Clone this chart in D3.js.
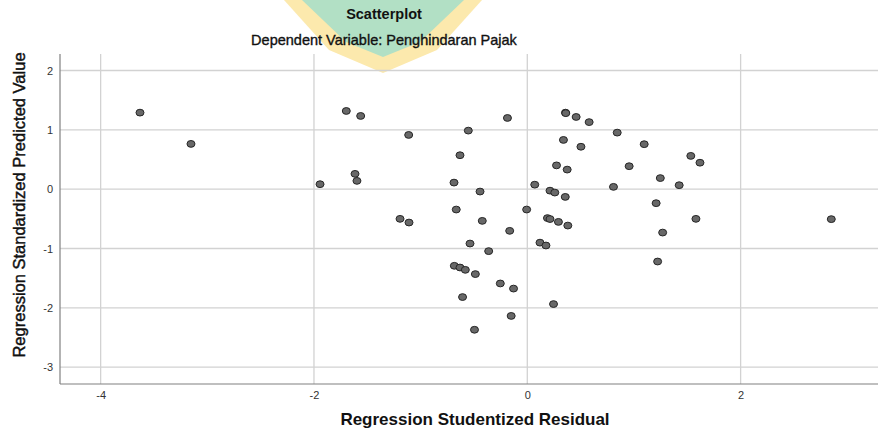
<!DOCTYPE html>
<html>
<head>
<meta charset="utf-8">
<script src="https://cdn.jsdelivr.net/npm/d3@7"></script>
<style>
  html, body { margin: 0; padding: 0; background: #fff; }
  svg { display: block; }
</style>
</head>
<body>
<svg id="chart" width="878" height="430"></svg>
<script>
// ---- data ----
const residual = [
  -3.631, -3.153, -1.697, -1.562, -1.112, -0.553, -0.631, -1.615, -1.597, -1.943,
  -0.687, -0.443, -0.666, -1.193, -1.109, -0.422, -0.165, -0.537, -0.362, -0.684,
  -0.631, -0.581, -0.487, -0.253, -0.129, -0.607, 0.246, -0.151, -0.495, -0.186,
  0.358, 0.361, 0.458, 0.580, 0.843, 0.339, 0.503, 1.096, 1.533, 1.619,
  0.274, 0.374, 0.955, 1.247, 0.070, 0.808, 1.424, 0.213, 0.258, 0.356,
  1.208, -0.006, 0.189, 0.213, 0.292, 0.380, 0.119, 0.175, 1.581, 1.269,
  1.222, 2.850
];
const predicted = [
  1.290, 0.763, 1.318, 1.234, 0.914, 0.987, 0.572, 0.258, 0.140, 0.084,
  0.111, -0.040, -0.343, -0.500, -0.562, -0.534, -0.702, -0.916, -1.044, -1.291,
  -1.320, -1.359, -1.431, -1.589, -1.675, -1.818, -1.936, -2.136, -2.369, 1.200,
  1.290, 1.281, 1.217, 1.130, 0.953, 0.830, 0.715, 0.758, 0.561, 0.446,
  0.401, 0.330, 0.387, 0.187, 0.076, 0.039, 0.067, -0.025, -0.057, -0.130,
  -0.236, -0.343, -0.487, -0.503, -0.551, -0.613, -0.901, -0.949, -0.500, -0.731,
  -1.219, -0.505
];
const xTicks = [-4, -2, 0, 2];
const yTicks = [-3, -2, -1, 0, 1, 2];
const xDomain = [-4.381, 3.288];
const yDomain = [-3.283, 2.278];
const titleText = "Scatterplot";
const subtitleText = "Dependent Variable: Penghindaran Pajak";
const xLabel = "Regression Studentized Residual";
const yLabel = "Regression Standardized Predicted Value";

// ---- layout ----
const W = 878, H = 430;
const m = { left: 60, right: 0, top: 54, bottom: 46 };
const svg = d3.select("#chart");

// watermark
const wm = svg.append("g");
wm.append("polygon").attr("points", "284,0 482,0 437,50 383,73 329,50").attr("fill", "#fce9ad");
wm.append("polygon").attr("points", "302,0 464,0 420,42 383,57 346,42").attr("fill", "#b2e0c5");

const x = d3.scaleLinear().domain(xDomain).range([m.left, W - m.right]);
const y = d3.scaleLinear().domain(yDomain).range([H - m.bottom, m.top]);

// grid
const grid = svg.append("g");
grid.selectAll("line.h").data(yTicks).join("line")
  .attr("x1", m.left).attr("x2", W - m.right)
  .attr("y1", d => y(d)).attr("y2", d => y(d))
  .attr("stroke", "#d2d2d2").attr("stroke-width", 1.3);
grid.selectAll("line.v").data(xTicks).join("line")
  .attr("y1", m.top).attr("y2", H - m.bottom)
  .attr("x1", d => x(d)).attr("x2", d => x(d))
  .attr("stroke", "#d2d2d2").attr("stroke-width", 1.3);

const ff = "Arial, 'Liberation Sans', sans-serif";
const fmt = d => String(d);

// axes
const xAxis = svg.append("g")
  .attr("transform", `translate(0,${H - m.bottom})`)
  .call(d3.axisBottom(x).tickValues(xTicks).tickSize(0).tickPadding(7).tickFormat(fmt));
xAxis.select(".domain").attr("stroke", "#808080").attr("stroke-width", 1.2)
  .attr("d", `M${m.left},0H${W}`);
xAxis.selectAll("text").attr("font-family", ff).attr("font-size", 11).attr("fill", "#333");

const yAxis = svg.append("g")
  .attr("transform", `translate(${m.left},0)`)
  .call(d3.axisLeft(y).tickValues(yTicks).tickSize(0).tickPadding(7).tickFormat(fmt));
yAxis.select(".domain").attr("stroke", "#808080").attr("stroke-width", 1.2)
  .attr("d", `M0,${m.top}V${H - m.bottom}`);
yAxis.selectAll("text").attr("font-family", ff).attr("font-size", 11).attr("fill", "#333");

// points
const pts = residual.map((r, i) => ({ r, p: predicted[i] }));
svg.append("g").selectAll("ellipse").data(pts).join("ellipse")
  .attr("cx", d => x(d.r)).attr("cy", d => y(d.p))
  .attr("rx", 4).attr("ry", 3.4)
  .attr("fill", "#686868").attr("stroke", "#262626").attr("stroke-width", 1);

// titles
svg.append("text").attr("x", 384).attr("y", 19).attr("text-anchor", "middle")
  .attr("font-family", ff).attr("font-size", 14.5).attr("font-weight", "bold")
  .attr("fill", "#111").text(titleText);
svg.append("text").attr("x", 384).attr("y", 45).attr("text-anchor", "middle")
  .attr("font-family", ff).attr("font-size", 14.5)
  .attr("fill", "#111").attr("stroke", "#111").attr("stroke-width", 0.35)
  .text(subtitleText);
svg.append("text").attr("x", (m.left + W) / 2 + 6).attr("y", 425).attr("text-anchor", "middle")
  .attr("font-family", ff).attr("font-size", 17).attr("font-weight", "bold")
  .attr("fill", "#111").text(xLabel);
svg.append("text")
  .attr("transform", `translate(25,${(m.top + H - m.bottom) / 2 - 14}) rotate(-90)`)
  .attr("text-anchor", "middle")
  .attr("font-family", ff).attr("font-size", 16.5)
  .attr("fill", "#111").attr("stroke", "#111").attr("stroke-width", 0.45)
  .text(yLabel);
</script>
</body>
</html>
